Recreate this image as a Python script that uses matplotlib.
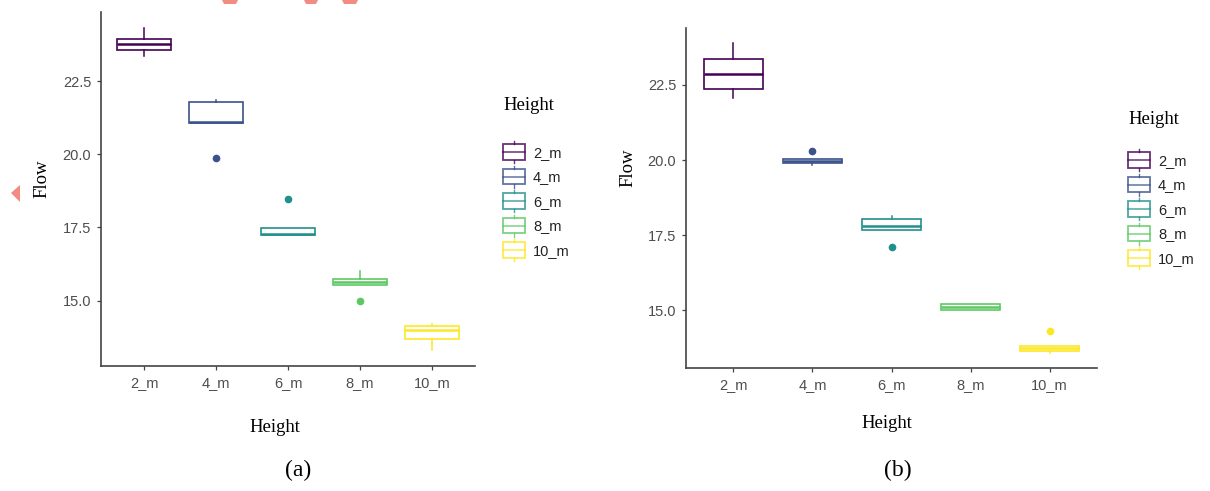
import matplotlib
matplotlib.use("Agg")
import matplotlib.pyplot as plt
from matplotlib.patches import Rectangle, Patch, Polygon
from matplotlib.lines import Line2D
from matplotlib.legend_handler import HandlerBase

# ---------------- data ----------------
categories = ["2_m", "4_m", "6_m", "8_m", "10_m"]
colors = ["#440154", "#3B528B", "#21908C", "#5DC863", "#FDE725"]

# panel (a)
a_lo  = [23.38, 21.07, 17.24, 15.54, 13.31]
a_q1  = [23.58, 21.07, 17.24, 15.54, 13.68]
a_med = [23.79, 21.10, 17.26, 15.63, 13.99]
a_q3  = [23.96, 21.80, 17.49, 15.73, 14.13]
a_hi  = [24.32, 21.87, 17.49, 16.00, 14.20]
a_out = [[], [19.89], [18.46], [15.00], []]

# panel (b)
b_lo  = [22.08, 19.83, 17.67, 15.01, 13.60]
b_q1  = [22.36, 19.90, 17.67, 15.01, 13.64]
b_med = [22.85, 19.98, 17.81, 15.12, 13.74]
b_q3  = [23.36, 20.03, 18.05, 15.23, 13.83]
b_hi  = [23.88, 20.05, 18.14, 15.23, 13.83]
b_out = [[], [20.31], [17.11], [], [14.31]]

yticks = [15.0, 17.5, 20.0, 22.5]

SERIF = "Liberation Serif"
SANS = "Liberation Sans"
TICK_COLOR = "#4D4D4D"
SPINE_COLOR = "#444444"

W, H = 1210, 491
fig = plt.figure(figsize=(W / 100, H / 100), dpi=100)


def fx(px):
    return px / W


def fy(py):
    return 1 - py / H


class BoxHandler(HandlerBase):
    def create_artists(self, legend, orig_handle, xdescent, ydescent,
                       width, height, fontsize, trans):
        c = orig_handle.get_edgecolor()
        x0, y0 = -xdescent, -ydescent
        b0, b1 = 0.15, 0.85
        arts = [
            Rectangle((x0, y0 + b0 * height), width, (b1 - b0) * height,
                      facecolor="white", edgecolor=c, lw=1.3, alpha=0.8,
                      transform=trans),
            Line2D([x0, x0 + width], [y0 + 0.5 * height] * 2, color=c,
                   lw=1.1, alpha=0.8, transform=trans),
            Line2D([x0 + width / 2] * 2, [y0 + b1 * height, y0 + height],
                   color=c, lw=1.0, alpha=0.8, transform=trans),
            Line2D([x0 + width / 2] * 2, [y0, y0 + b0 * height],
                   color=c, lw=1.0, alpha=0.8, transform=trans),
        ]
        return arts


def panel(rect_px, lo, q1, med, q3, hi, out, flow_xy, height_xy,
          legend_title_xy, legend_anchor_px, letter, letter_xy):
    left, top, right, bottom = rect_px
    ax = fig.add_axes([fx(left), fy(bottom), fx(right - left),
                       (bottom - top) / H])
    stats = []
    for i, cat in enumerate(categories):
        stats.append(dict(med=med[i], q1=q1[i], q3=q3[i], whislo=lo[i],
                          whishi=hi[i], fliers=out[i], label=cat))
    positions = list(range(1, len(categories) + 1))
    bp = ax.bxp(stats, positions=positions, widths=0.75, patch_artist=True,
                showcaps=False, manage_ticks=False)
    for i, c in enumerate(colors):
        bp["boxes"][i].set(facecolor="white", edgecolor=c, linewidth=1.2)
        bp["medians"][i].set(color=c, linewidth=1.8, solid_capstyle="butt")
        bp["whiskers"][2 * i].set(color=c, linewidth=1.1)
        bp["whiskers"][2 * i + 1].set(color=c, linewidth=1.1)
        bp["fliers"][i].set(marker="o", markerfacecolor=c,
                            markeredgecolor=c, markersize=4.5)

    allv = lo + hi + [v for o in out for v in o]
    vmin, vmax = min(allv), max(allv)
    pad = 0.05 * (vmax - vmin)
    ax.set_ylim(vmin - pad, vmax + pad)
    ax.set_xlim(0.4, len(categories) + 0.6)
    ax.set_xticks(positions)
    ax.set_xticklabels(categories)
    ax.set_yticks(yticks)
    ax.set_yticklabels([f"{t:.1f}" for t in yticks])

    for s in ["top", "right"]:
        ax.spines[s].set_visible(False)
    for s in ["left", "bottom"]:
        ax.spines[s].set_color(SPINE_COLOR)
        ax.spines[s].set_linewidth(1.2)
    ax.tick_params(axis="both", direction="out", length=3, width=0.9,
                   color=SPINE_COLOR, labelcolor=TICK_COLOR, labelsize=10.5,
                   pad=4)
    for lab in ax.get_xticklabels() + ax.get_yticklabels():
        lab.set_fontfamily(SANS)

    fig.text(fx(flow_xy[0]), fy(flow_xy[1]), "Flow", rotation=90,
             ha="center", va="center", fontsize=13.5, family=SERIF)
    fig.text(fx(height_xy[0]), fy(height_xy[1]), "Height", ha="center",
             va="center", fontsize=13.5, family=SERIF)
    fig.text(fx(legend_title_xy[0]), fy(legend_title_xy[1]), "Height",
             ha="left", va="center", fontsize=13.5, family=SERIF)
    fig.text(fx(letter_xy[0]), fy(letter_xy[1]), letter, ha="center",
             va="center", fontsize=17, family=SERIF)

    handles = [Patch(facecolor="white", edgecolor=c) for c in colors]
    leg = fig.legend(handles, categories, loc="upper left",
                     bbox_to_anchor=(fx(legend_anchor_px[0]),
                                     fy(legend_anchor_px[1])),
                     frameon=False, borderpad=0, borderaxespad=0,
                     handler_map={Patch: BoxHandler()},
                     handlelength=1.5, handleheight=1.95,
                     handletextpad=0.55, labelspacing=0.17,
                     prop={"family": SANS, "size": 10.5})
    for t in leg.get_texts():
        t.set_color("#222222")
    return ax


panel((101, 12, 475, 366), a_lo, a_q1, a_med, a_q3, a_hi, a_out,
      flow_xy=(42, 179), height_xy=(275, 427), legend_title_xy=(503, 106),
      legend_anchor_px=(503, 141), letter="(a)", letter_xy=(298, 470))
panel((686, 28, 1097, 368), b_lo, b_q1, b_med, b_q3, b_hi, b_out,
      flow_xy=(628, 168), height_xy=(887, 423), legend_title_xy=(1128, 119),
      legend_anchor_px=(1128, 149), letter="(b)", letter_xy=(898, 470))

# small salmon markers from the source page
salmon = "#F28B82"
fig.patches.append(Polygon([[fx(11), fy(193)], [fx(20), fy(185)],
                            [fx(20), fy(202)]], closed=True,
                           transform=fig.transFigure, facecolor=salmon,
                           edgecolor="none"))
for x0, x1 in [(222, 238), (304, 318), (342, 358)]:
    fig.patches.append(Polygon([[fx(x0), fy(0)], [fx(x1), fy(0)],
                                [fx(x1 - 2), fy(4)], [fx(x0 + 2), fy(4)]],
                               closed=True, transform=fig.transFigure,
                               facecolor=salmon, edgecolor="none"))

fig.savefig("out.png", dpi=100, facecolor="white")
